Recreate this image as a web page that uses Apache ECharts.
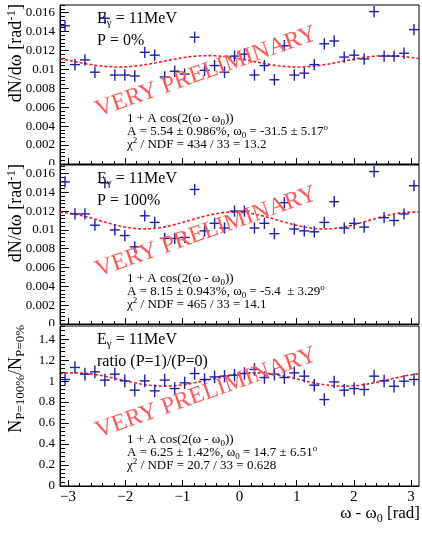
<!DOCTYPE html>
<html>
<head>
<meta charset="utf-8">
<script src="https://cdn.jsdelivr.net/npm/echarts@6/dist/echarts.min.js"></script>
<style>
  html, body { margin: 0; padding: 0; background: #fff; }
  #chart { width: 422px; height: 534px; }
</style>
</head>
<body>
<div id="chart"></div>
<script>
// ---- data: 36 bins in omega - omega0, from -pi to pi ----
const binCenters = [-3.054, -2.880, -2.705, -2.531, -2.356, -2.182, -2.007, -1.833, -1.658, -1.484,
  -1.309, -1.134, -0.960, -0.785, -0.611, -0.436, -0.262, -0.087, 0.087, 0.262,
  0.436, 0.611, 0.785, 0.960, 1.134, 1.309, 1.484, 1.658, 1.833, 2.007,
  2.182, 2.356, 2.531, 2.705, 2.880, 3.054];
const binHalfWidth = 0.0873;

// dN/domega, unpolarised (P = 0%)
const rateP0 = [0.0146, 0.0105, 0.0110, 0.0097, 0.0154, 0.0094, 0.0094, 0.0093, 0.0118, 0.0115,
  0.0092, 0.0098, 0.0095, 0.0134, 0.0099, 0.0104, 0.0097, 0.0114, 0.0116, 0.0094,
  0.0104, 0.0089, 0.0125, 0.0094, 0.0096, 0.0105, 0.0127, 0.0130, 0.0113, 0.0115,
  0.0111, 0.0161, 0.0114, 0.0114, 0.0117, 0.0142];
// dN/domega, fully polarised (P = 100%)
const rateP100 = [0.0151, 0.0117, 0.0117, 0.0105, 0.0150, 0.0100, 0.0094, 0.0082, 0.0115, 0.0108,
  0.0091, 0.0091, 0.0092, 0.0143, 0.0099, 0.0107, 0.0102, 0.0120, 0.0120, 0.0102,
  0.0107, 0.0096, 0.0129, 0.0101, 0.0099, 0.0098, 0.0108, 0.0130, 0.0102, 0.0107,
  0.0103, 0.0162, 0.0113, 0.0110, 0.0117, 0.0147];
// ratio N(P=100%) / N(P=0%)
const ratio = [1.015, 1.130, 1.066, 1.088, 1.009, 1.066, 1.002, 0.913, 1.002, 0.907,
  1.009, 0.929, 0.983, 1.072, 1.015, 1.040, 1.047, 1.056, 1.072, 1.111,
  1.034, 1.066, 1.034, 1.078, 1.047, 0.961, 0.824, 0.992, 0.913, 0.929,
  0.920, 1.047, 1.002, 0.951, 0.999, 1.015];
// statistical error (half height of the error bars)
const errP0 = 0.0006;
const errP100 = 0.0006;
const errRatio = 0.06;

// fit 1 + A cos(2(omega - omega0)), with a normalisation per panel
const fitAmp = [0.0554, 0.0815, 0.0625];
const fitPhaseDeg = [-31.5, -5.4, 14.7];
const fitNorm = [0.01085, 0.0110, 1.015];

// axis ticks
const xMajorTicks = [-3, -2, -1, 0, 1, 2, 3];
const rateMajorTicks = [0, 0.002, 0.004, 0.006, 0.008, 0.01, 0.012, 0.014, 0.016];
const ratioMajorTicks = [0, 0.2, 0.4, 0.6, 0.8, 1, 1.2, 1.4];

// ---- layout ----
const serif = '"Liberation Serif", "DejaVu Serif", serif';
const BLUE = '#1f1fa6';
const RED = '#ff1a1a';
const panels = [
  { top: 5,   height: 159, ymax: 0.0168, major: rateMajorTicks,  minorStep: 0.0004, values: rateP0,   err: errP0,    dec: 4 },
  { top: 165, height: 159, ymax: 0.0169, major: rateMajorTicks,  minorStep: 0.0004, values: rateP100, err: errP100,  dec: 4 },
  { top: 326, height: 160, ymax: 1.525,  major: ratioMajorTicks, minorStep: 0.04,   values: ratio,    err: errRatio, dec: 2 }
];
const PLOT_LEFT = 60, PLOT_WIDTH = 359;

function minorTicks(step, maxV) {
  const out = [];
  for (let i = 1; i * step <= maxV + 1e-9; i++) {
    if (i % 5 !== 0) out.push(Number((i * step).toFixed(6)));
  }
  return out;
}
function xMinorTicks() {
  const out = [];
  for (let i = -15; i <= 15; i++) if (i % 5 !== 0) out.push(Number((i * 0.2).toFixed(3)));
  return out;
}
function minusFmt(v) {
  return v < 0 ? '\u2212' + String(-v) : String(v);
}

const option = {
  animation: false,
  backgroundColor: '#fff',
  grid: [], xAxis: [], yAxis: [], series: [], graphic: []
};

panels.forEach((p, g) => {
  option.grid.push({
    left: PLOT_LEFT, width: PLOT_WIDTH, top: p.top, height: p.height,
    show: true, borderColor: '#000', borderWidth: 1, backgroundColor: 'transparent'
  });
  const isBottom = g === 2;
  // major x ticks (+ labels on the bottom panel)
  option.xAxis.push({
    type: 'value', gridIndex: g, min: -Math.PI, max: Math.PI, position: 'bottom',
    axisLine: { show: true, onZero: false, lineStyle: { color: '#000', width: 1 } },
    axisTick: { show: true, inside: true, length: 6, customValues: xMajorTicks, lineStyle: { color: '#000' } },
    axisLabel: {
      show: isBottom, customValues: xMajorTicks, formatter: minusFmt, margin: 4,
      fontFamily: serif, fontSize: 15, color: '#000'
    },
    splitLine: { show: false }
  });
  // minor x ticks
  option.xAxis.push({
    type: 'value', gridIndex: g, min: -Math.PI, max: Math.PI, position: 'bottom',
    axisLine: { show: false, onZero: false },
    axisTick: { show: true, inside: true, length: 3, customValues: xMinorTicks(), lineStyle: { color: '#000' } },
    axisLabel: { show: false }, splitLine: { show: false }
  });
  // major y ticks + labels
  option.yAxis.push({
    type: 'value', gridIndex: g, min: 0, max: p.ymax, position: 'left', z: 2 * g,
    axisLine: { show: true, onZero: false, lineStyle: { color: '#000', width: 1 } },
    axisTick: { show: true, inside: true, length: 9, customValues: p.major, lineStyle: { color: '#000' } },
    axisLabel: {
      show: true, customValues: p.major, margin: 5,
      formatter: v => String(Number(v.toFixed(p.dec))),
      fontFamily: serif, fontSize: 13, color: '#000'
    },
    splitLine: { show: false }
  });
  // minor y ticks
  option.yAxis.push({
    type: 'value', gridIndex: g, min: 0, max: p.ymax, position: 'left',
    axisLine: { show: false, onZero: false },
    axisTick: { show: true, inside: true, length: 5, customValues: minorTicks(p.minorStep, p.ymax), lineStyle: { color: '#000' } },
    axisLabel: { show: false }, splitLine: { show: false }
  });

  // data points with error bars (bin width horizontally)
  option.series.push({
    type: 'custom', xAxisIndex: 2 * g, yAxisIndex: 2 * g, clip: true, z: 3,
    data: binCenters.map((x, i) => [x, p.values[i], p.err]),
    renderItem: (params, api) => {
      const x = api.value(0), y = api.value(1), e = api.value(2);
      const l = api.coord([x - binHalfWidth, y]);
      const r = api.coord([x + binHalfWidth, y]);
      const t = api.coord([x, y + e]);
      const b = api.coord([x, y - e]);
      const st = { stroke: BLUE, lineWidth: 1.4 };
      return {
        type: 'group', children: [
          { type: 'line', shape: { x1: l[0], y1: l[1], x2: r[0], y2: r[1] }, style: st },
          { type: 'line', shape: { x1: t[0], y1: t[1], x2: b[0], y2: b[1] }, style: st }
        ]
      };
    }
  });

  // fit curve N (1 + A cos(2(w - w0)))
  const w0 = fitPhaseDeg[g] * Math.PI / 180;
  const curve = [];
  for (let i = 0; i <= 240; i++) {
    const w = -Math.PI + i * (2 * Math.PI / 240);
    curve.push([w, fitNorm[g] * (1 + fitAmp[g] * Math.cos(2 * (w - w0)))]);
  }
  option.series.push({
    type: 'line', xAxisIndex: 2 * g, yAxisIndex: 2 * g, data: curve, showSymbol: false,
    silent: true, z: 2, lineStyle: { color: RED, width: 1.6, type: [3, 2] }
  });
});

// ---- texts ----
const G = option.graphic;
function rich(x, y, text, richStyles, opt) {
  opt = opt || {};
  G.push({
    type: 'text', x: x, y: y, rotation: opt.rotation || 0, z: opt.z == null ? 10 : opt.z,
    style: {
      text: text, rich: richStyles,
      align: opt.align || 'left', textAlign: opt.align || 'left',
      verticalAlign: opt.valign || 'middle', textVerticalAlign: opt.valign || 'middle',
      fill: opt.fill || '#000', font: (opt.size || 16) + 'px ' + serif
    }
  });
}
function styles(size, color) {
  const sub = Math.round(size * 0.7);
  return {
    n: { fontSize: size, fontFamily: serif, fill: color, lineHeight: size + 4, verticalAlign: 'middle' },
    sub: { fontSize: sub, fontFamily: serif, fill: color, lineHeight: sub, verticalAlign: 'bottom' },
    sup: { fontSize: sub, fontFamily: serif, fill: color, lineHeight: sub, verticalAlign: 'top' }
  };
}
const big = styles(16, '#000');
const small = styles(13, '#000');

// clip panels: each pad hides the bottom of the one above it on the label side
G.push({ type: 'rect', shape: { x: 0, y: 165, width: 59, height: 160 }, style: { fill: '#fff' }, z: 1 });
G.push({ type: 'rect', shape: { x: 0, y: 326, width: 59, height: 160 }, style: { fill: '#fff' }, z: 3 });

const panelLabel = ['{n|P = 0%}', '{n|P = 100%}', '{n|ratio (P=1)/(P=0)}'];
const fitLines = [
  ['{n|A = 5.54 \u00b1 0.986%, \u03c9}{sub|0}{n| = -31.5 \u00b1 5.17}{sup|o}', '{n|\u03c7}{sup|2}{n| / NDF = 434 / 33 = 13.2}'],
  ['{n|A = 8.15 \u00b1 0.943%, \u03c9}{sub|0}{n| = -5.4  \u00b1 3.29}{sup|o}', '{n|\u03c7}{sup|2}{n| / NDF = 465 / 33 = 14.1}'],
  ['{n|A = 6.25 \u00b1 1.42%, \u03c9}{sub|0}{n| = 14.7 \u00b1 6.51}{sup|o}', '{n|\u03c7}{sup|2}{n| / NDF = 20.7 / 33 = 0.628}']
];
panels.forEach((p, g) => {
  const t = p.top;
  rich(97, t + 14, '{n|E}{sub|\u03b3}{n| = 11MeV}', big, { z: 12 });
  rich(97, t + 36, panelLabel[g], big, { z: 12 });
  rich(127, t + 114, '{n|1 + A cos(2(\u03c9 - \u03c9}{sub|0}{n|))}', small, { z: 12 });
  rich(127, t + 127, fitLines[g][0], small, { z: 12 });
  rich(127, t + 140, fitLines[g][1], small, { z: 12 });
  // watermark
  G.push({
    type: 'text', x: 206, y: t + 67, rotation: 0.34, z: 20,
    style: {
      text: 'VERY PRELIMINARY', font: '24px ' + serif, fill: '#ff5a5a',
      align: 'center', textAlign: 'center', verticalAlign: 'middle', textVerticalAlign: 'middle'
    }
  });
});

// axis titles
const title = styles(18, '#000');
rich(16, 4, '{n|dN/d\u03c9 [rad}{sup|-1}{n|]}', title, { rotation: Math.PI / 2, align: 'right', z: 0 });
rich(16, 164, '{n|dN/d\u03c9 [rad}{sup|-1}{n|]}', title, { rotation: Math.PI / 2, align: 'right', z: 2 });
rich(16, 325, '{n|N}{sub|P=100%}{n|/N}{sub|P=0%}', title, { rotation: Math.PI / 2, align: 'right', z: 4 });
rich(420, 514, '{n|\u03c9 - \u03c9}{sub|0}{n| [rad]}', styles(17, '#000'), { align: 'right', z: 4 });

const chart = echarts.init(document.getElementById('chart'), null, { renderer: 'canvas' });
chart.setOption(option);
</script>
</body>
</html>
